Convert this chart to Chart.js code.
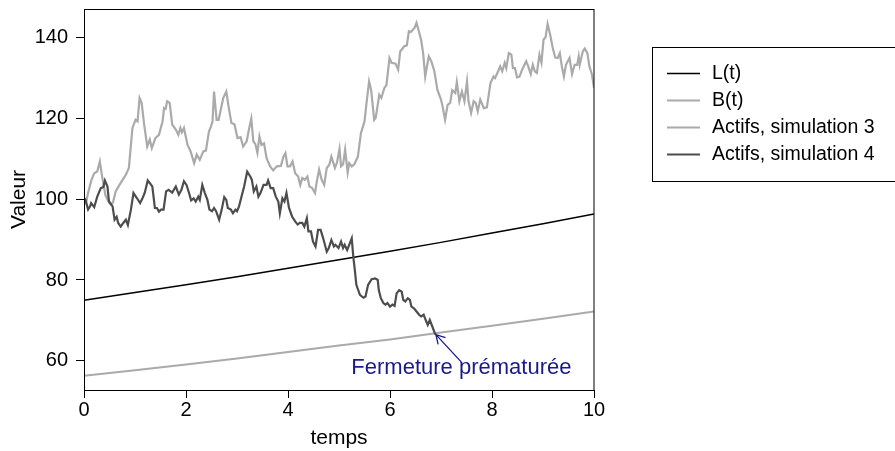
<!DOCTYPE html>
<html>
<head>
<meta charset="utf-8">
<script src="https://cdn.jsdelivr.net/npm/chart.js@4.4.1/dist/chart.umd.min.js"></script>
<style>
  html, body { margin: 0; padding: 0; background: #fff; }
  #wrap { width: 895px; height: 451px; position: relative; }
</style>
</head>
<body>
<div id="wrap"><canvas id="c"></canvas></div>
<script>
// Liability L(t) and barrier B(t), read at whole years
const gridTimes = [0, 1, 2, 3, 4, 5, 6, 7, 8, 9, 10];
const liabilityValues = [75.0, 76.9, 78.8, 80.8, 82.9, 85.0, 87.1, 89.3, 91.6, 93.9, 96.3];
const barrierValues = [56.3, 57.7, 59.1, 60.6, 62.2, 63.8, 65.3, 67.0, 68.7, 70.4, 72.2];

// Asset path, simulation 3
const sim3Times = [0.00,0.04,0.08,0.14,0.20,0.26,0.31,0.36,0.42,0.47,0.53,0.57,0.62,0.72,0.82,0.88,0.95,1.01,1.05,1.09,1.13,1.18,1.24,1.29,1.33,1.40,1.47,1.54,1.57,1.60,1.63,1.68,1.73,1.80,1.85,1.89,1.92,1.96,2.03,2.09,2.16,2.21,2.27,2.34,2.39,2.45,2.49,2.52,2.55,2.60,2.64,2.73,2.79,2.84,2.89,2.95,3.01,3.07,3.12,3.19,3.24,3.28,3.32,3.36,3.40,3.44,3.48,3.53,3.58,3.65,3.71,3.78,3.86,3.91,3.95,3.99,4.04,4.09,4.14,4.20,4.24,4.28,4.33,4.38,4.42,4.47,4.53,4.56,4.61,4.66,4.71,4.76,4.81,4.85,4.92,4.96,5.01,5.04,5.08,5.12,5.17,5.20,5.25,5.30,5.37,5.43,5.50,5.54,5.59,5.63,5.69,5.72,5.79,5.83,5.89,5.93,5.99,6.03,6.11,6.16,6.20,6.28,6.33,6.37,6.41,6.48,6.52,6.61,6.65,6.69,6.76,6.81,6.87,6.93,7.00,7.03,7.08,7.13,7.18,7.22,7.28,7.31,7.36,7.41,7.46,7.51,7.54,7.59,7.64,7.68,7.72,7.77,7.84,7.90,7.97,8.03,8.06,8.12,8.16,8.20,8.25,8.28,8.33,8.38,8.41,8.45,8.49,8.54,8.59,8.67,8.71,8.76,8.80,8.84,8.88,8.93,8.97,9.01,9.05,9.09,9.14,9.19,9.24,9.29,9.33,9.37,9.41,9.45,9.52,9.57,9.62,9.67,9.70,9.72,9.78,9.82,9.87,9.91,9.96,10.00];
const sim3Values = [100.5,99.2,101.5,104.5,106.4,106.8,109.3,105.2,101.0,99.6,98.6,99.2,101.9,104.0,106.0,107.7,117.6,119.6,119.2,125.0,123.8,118.4,113.0,114.7,112.6,115.1,115.9,119.2,122.5,122.3,124.2,123.8,118.4,117.2,115.9,117.6,116.5,117.6,113.4,111.8,108.9,111.0,109.7,111.8,112.0,116.7,118.0,119.2,126.6,119.6,119.6,125.0,126.6,122.5,118.8,118.5,115.1,115.3,113.0,114.3,117.6,119.9,114.3,113.6,111.4,115.5,113.4,113.8,110.1,108.1,107.1,108.1,108.2,110.5,111.4,108.1,108.1,109.3,106.4,105.6,103.5,105.2,104.8,105.6,103.1,102.8,101.5,104.0,107.3,104.8,103.5,107.7,108.5,110.5,107.7,109.0,112.4,108.1,108.6,112.2,106.6,108.9,108.1,108.6,110.5,116.3,119.2,123.8,129.1,127.0,119.6,120.1,125.8,125.0,127.5,128.2,134.9,133.7,133.5,132.0,136.5,137.8,138.0,141.5,141.3,142.3,143.6,139.4,136.1,130.3,135.3,134.1,131.6,127.0,124.6,123.0,119.6,123.3,123.8,126.9,126.2,128.9,124.2,126.6,124.2,129.1,124.2,121.3,124.2,123.8,121.7,124.6,122.5,122.7,128.7,130.3,129.9,131.6,132.8,131.6,133.7,132.4,136.1,135.7,132.4,132.4,130.1,130.3,132.0,134.1,132.8,130.9,133.2,131.6,131.2,135.7,133.7,139.4,140.0,143.3,140.7,137.4,135.0,134.9,136.1,132.8,130.3,133.2,134.9,130.9,133.2,133.2,135.3,133.2,136.5,137.2,136.1,132.8,130.8,127.5];

// Asset path, simulation 4 (stops when it reaches the barrier)
const sim4Times = [0.00,0.03,0.08,0.12,0.14,0.20,0.26,0.33,0.38,0.41,0.46,0.49,0.56,0.60,0.64,0.67,0.72,0.77,0.82,0.86,0.92,0.97,1.04,1.10,1.14,1.19,1.25,1.30,1.34,1.39,1.43,1.47,1.51,1.56,1.61,1.66,1.73,1.80,1.86,1.91,1.96,2.01,2.06,2.10,2.15,2.19,2.24,2.27,2.32,2.37,2.42,2.46,2.51,2.55,2.59,2.65,2.70,2.75,2.79,2.82,2.88,2.92,2.97,3.00,3.04,3.08,3.14,3.20,3.26,3.29,3.33,3.38,3.42,3.46,3.52,3.58,3.61,3.66,3.71,3.76,3.81,3.84,3.89,3.93,3.97,4.02,4.08,4.14,4.19,4.23,4.28,4.32,4.37,4.40,4.45,4.49,4.54,4.59,4.64,4.69,4.76,4.80,4.85,4.90,4.93,4.99,5.04,5.08,5.11,5.16,5.20,5.25,5.28,5.31,5.34,5.41,5.48,5.52,5.57,5.64,5.71,5.76,5.78,5.82,5.87,5.91,5.95,6.00,6.05,6.09,6.13,6.18,6.23,6.26,6.30,6.35,6.39,6.42,6.47,6.52,6.57,6.61,6.66,6.70,6.74,6.78,6.83,6.88,6.90];
const sim4Values = [100.2,99.8,97.4,98.2,99.0,98.0,100.6,102.7,103.0,104.6,103.1,99.4,98.2,94.9,95.6,94.1,93.2,94.1,94.9,93.6,97.4,101.5,100.2,99.0,100.0,101.5,104.6,103.8,103.1,97.8,97.8,96.9,97.4,97.4,101.9,102.3,101.6,103.1,101.1,102.3,104.4,103.5,101.5,99.7,100.2,99.4,100.6,99.8,103.5,101.5,99.8,97.4,97.0,97.8,97.0,94.9,97.4,100.5,99.8,97.8,97.4,96.5,97.4,97.0,98.2,100.2,103.1,106.8,105.6,104.8,101.9,103.1,100.6,101.5,103.5,103.5,104.6,102.7,102.7,100.6,99.4,96.5,100.2,99.4,101.5,97.8,95.7,94.5,93.7,94.1,94.1,93.2,95.3,92.0,92.0,89.5,88.3,92.4,92.4,90.3,87.0,87.9,89.9,88.3,88.7,87.9,89.5,87.9,88.7,87.4,88.7,90.3,85.8,82.5,78.8,76.3,75.6,75.9,78.8,80.2,80.4,80.0,77.5,75.5,74.3,73.9,74.3,73.4,73.9,73.6,76.7,77.5,77.1,75.1,74.7,75.5,75.1,73.4,73.0,72.2,71.4,71.0,71.4,70.1,68.9,70.1,68.5,66.8,66.5];

const xTicks = [0, 2, 4, 6, 8, 10];
const yTicks = [60, 80, 100, 120, 140];
const seriesNames = ['L(t)', 'B(t)', 'Actifs, simulation 3', 'Actifs, simulation 4'];
const xTitle = 'temps';
const yTitle = 'Valeur';
const noteText = 'Fermeture prématurée';
const notePos = [7.4, 58.2];   // centre of the note text
const arrowTail = [7.4, 59.7]; // arrow starts under the text

const FONT = '"Liberation Sans", Arial, Helvetica, sans-serif';
const colors = ['#000000', '#aaaaaa', '#aaaaaa', '#4d4d4d'];
const widths = [1.5, 2, 2.2, 2.2];

const pts = (xs, ys) => xs.map((x, i) => ({ x, y: ys[i] }));

const series = [
  pts(gridTimes, liabilityValues),
  pts(gridTimes, barrierValues),
  pts(sim3Times, sim3Values),
  pts(sim4Times, sim4Values)
];

const extras = {
  id: 'extras',
  afterDraw(chart) {
    const { ctx, chartArea: a, scales } = chart;
    const xs = scales.x, ys = scales.y;
    ctx.save();
    // frame around the plotting region
    ctx.strokeStyle = '#000';
    ctx.lineWidth = 1;
    ctx.strokeRect(a.left + 0.5, a.top + 0.5, a.right - a.left - 0.5, a.bottom - a.top);

    // axis titles
    ctx.fillStyle = '#000';
    ctx.font = '21px ' + FONT;
    ctx.textAlign = 'center';
    ctx.textBaseline = 'middle';
    ctx.fillText(xTitle, (a.left + a.right) / 2, 438);
    ctx.save();
    ctx.translate(19, (a.top + a.bottom) / 2);
    ctx.rotate(-Math.PI / 2);
    ctx.fillText(yTitle, 0, 0);
    ctx.restore();

    // note with arrow pointing at the end of simulation 4
    const last = series[3][series[3].length - 1];
    const tipX = xs.getPixelForValue(last.x), tipY = ys.getPixelForValue(last.y);
    const tailX = xs.getPixelForValue(arrowTail[0]), tailY = ys.getPixelForValue(arrowTail[1]);
    ctx.strokeStyle = '#1a1a8a';
    ctx.lineWidth = 1.3;
    ctx.beginPath();
    ctx.moveTo(tailX, tailY);
    ctx.lineTo(tipX, tipY);
    const ang = Math.atan2(tipY - tailY, tipX - tailX);
    const hl = 10, ha = Math.PI / 6;
    ctx.moveTo(tipX - hl * Math.cos(ang - ha), tipY - hl * Math.sin(ang - ha));
    ctx.lineTo(tipX, tipY);
    ctx.lineTo(tipX - hl * Math.cos(ang + ha), tipY - hl * Math.sin(ang + ha));
    ctx.stroke();
    ctx.fillStyle = '#1a1a8a';
    ctx.font = '22px ' + FONT;
    ctx.fillText(noteText, xs.getPixelForValue(notePos[0]), ys.getPixelForValue(notePos[1]));

    // legend box
    ctx.strokeStyle = '#000';
    ctx.lineWidth = 1;
    ctx.strokeRect(652.5, 47.5, 260, 134);
    ctx.font = '19.5px ' + FONT;
    ctx.textAlign = 'left';
    ctx.fillStyle = '#000';
    const rows = [73.5, 100.5, 127.5, 154.5];
    seriesNames.forEach((name, i) => {
      ctx.strokeStyle = colors[i];
      ctx.lineWidth = widths[i];
      ctx.beginPath();
      ctx.moveTo(667, rows[i]);
      ctx.lineTo(700, rows[i]);
      ctx.stroke();
      ctx.fillText(name, 712, rows[i]);
    });
    ctx.restore();
  }
};

function noEdgePadding(s) {
  s.paddingTop = 0; s.paddingBottom = 0; s.paddingLeft = 0; s.paddingRight = 0;
}

new Chart(document.getElementById('c'), {
  type: 'line',
  data: {
    datasets: series.map((d, i) => ({
      label: seriesNames[i],
      data: d,
      borderColor: colors[i],
      borderWidth: widths[i],
      pointRadius: 0,
      tension: 0,
      fill: false
    })).reverse()
  },
  options: {
    responsive: true,
    maintainAspectRatio: false,
    animation: false,
    layout: { padding: { top: 9, right: 301, left: 0, bottom: 0 } },
    plugins: { legend: { display: false }, tooltip: { enabled: false } },
    scales: {
      x: {
        type: 'linear',
        min: 0, max: 10,
        afterFit(s) { s.height = 61; noEdgePadding(s); },
        afterBuildTicks(s) { s.ticks = xTicks.map(v => ({ value: v })); },
        grid: { drawOnChartArea: false, drawTicks: true, tickLength: 8, color: '#000' },
        border: { display: true, color: '#000' },
        ticks: { color: '#000', font: { family: FONT, size: 20 }, padding: 0, maxRotation: 0 }
      },
      y: {
        type: 'linear',
        min: 52.8, max: 147,
        afterFit(s) { s.width = 84; noEdgePadding(s); },
        afterBuildTicks(s) { s.ticks = yTicks.map(v => ({ value: v })); },
        grid: { drawOnChartArea: false, drawTicks: true, tickLength: 8, color: '#000' },
        border: { display: true, color: '#000' },
        ticks: { color: '#000', font: { family: FONT, size: 20 }, padding: 8 }
      }
    }
  },
  plugins: [extras]
});
</script>
</body>
</html>
